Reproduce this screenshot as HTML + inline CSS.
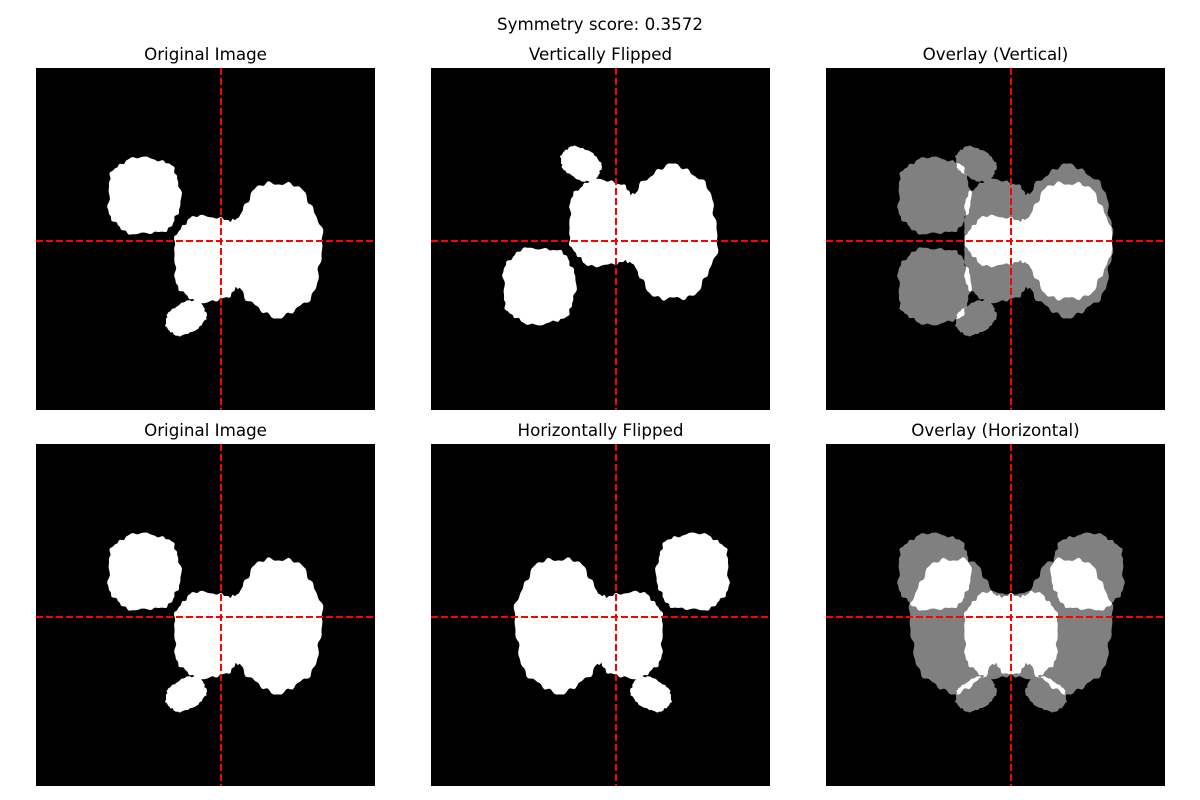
<!DOCTYPE html>
<html><head><meta charset="utf-8">
<style>
body{margin:0;background:#fff;}
svg{display:block;font-family:"DejaVu Sans","Liberation Sans",sans-serif;}
</style></head>
<body>
<svg id="fig" width="1200" height="800" viewBox="0 0 1200 800">
<text x="600" y="30" text-anchor="middle" font-size="16.7">Symmetry score: 0.3572</text>
</svg>
<script>
// Panel layout data
const panelTitles = ["Original Image","Vertically Flipped","Overlay (Vertical)","Original Image","Horizontally Flipped","Overlay (Horizontal)"];
const panelModes = ["orig","vflip","vover","orig","hflip","hover"];
const panelX = [36,431,826];
const panelY = [68,444];
const panelW = 339, panelH = 342;
// symmetry axis (centroid) in panel-local coords
const axisX = [185];
const axisY = [173];
// blob ellipses in panel-local coords: cx, cy, rx, ry, rotation, seed, power
const blobCx = [108,171,242,150,205];
const blobCy = [128,191,181,250,185];
const blobRx = [36,33,44,21,18];
const blobRy = [38,43,67,15,36];
const blobRot = [0,0,0,-30,0];
const blobSeed = [1,2,3,4,5];
const blobPow = [2.6,2.6,2.1,2.4,2.4];

const NS="http://www.w3.org/2000/svg";
const svg=document.getElementById('fig');
function el(tag,attrs,parent){const e=document.createElementNS(NS,tag);for(const k in attrs)e.setAttribute(k,attrs[k]);(parent||svg).appendChild(e);return e;}

function blobPath(i){
  const cx=blobCx[i],cy=blobCy[i],rx=blobRx[i],ry=blobRy[i],s=blobSeed[i];
  const a=blobRot[i]*Math.PI/180;
  const p=blobPow[i];
  let d="";
  const n=140;
  for(let k=0;k<n;k++){
    const t=k/n*2*Math.PI;
    const c=Math.cos(t),sn=Math.sin(t);
    const ex=Math.sign(c)*Math.pow(Math.abs(c),2/p), ey=Math.sign(sn)*Math.pow(Math.abs(sn),2/p);
    const w=1+0.03*Math.sin(7*t+s)+0.02*Math.sin(17*t+2*s)+0.015*Math.sin(29*t+3*s);
    const x=ex*rx*w,y=ey*ry*w;
    const X=cx+x*Math.cos(a)-y*Math.sin(a),Y=cy+x*Math.sin(a)+y*Math.cos(a);
    d+=(k?"L":"M")+X.toFixed(1)+","+Y.toFixed(1);
  }
  return d+"Z";
}
const defs=el('defs',{});
const shapeD=blobCx.map((_,i)=>blobPath(i));
function shapeGroup(parent,fill,transform){
  const g=el('g',{transform:transform||""},parent);
  shapeD.forEach(d=>{
    const p=el('path',{d:d,fill:fill},g);
    
    
  });
  return g;
}
const vT=`translate(0,${2*axisY[0]}) scale(1,-1)`;
const hT=`translate(${2*axisX[0]},0) scale(-1,1)`;
["v","h"].forEach(m=>{
  const cp=el('clipPath',{id:'flip-'+m},defs);
  shapeD.forEach(d=>el('path',{d:d,transform:m==="v"?vT:hT},cp));
});
el('clipPath',{id:'panel-clip'},defs);
el('rect',{x:0,y:0,width:panelW,height:panelH},defs.lastChild);

panelModes.forEach((mode,idx)=>{
  const px=panelX[idx%3],py=panelY[Math.floor(idx/3)];
  const g=el('g',{transform:`translate(${px},${py})`});
  
  
  const t=el('text',{x:panelW/2,y:-8,'text-anchor':'middle','font-size':16.7},g);
  t.textContent=panelTitles[idx];
  
  
  el('rect',{x:0,y:0,width:panelW,height:panelH,fill:'#000'},g);
  const inner=el('g',{'clip-path':'url(#panel-clip)'},g);
  if(mode==="orig") shapeGroup(inner,'#fff');
  else if(mode==="vflip") shapeGroup(inner,'#fff',vT);
  else if(mode==="hflip") shapeGroup(inner,'#fff',hT);
  else{
    const T=mode==="vover"?vT:hT, cid=mode==="vover"?"flip-v":"flip-h";
    shapeGroup(inner,'#808080');
    shapeGroup(inner,'#808080',T);
    const ig=el('g',{'clip-path':`url(#${cid})`},inner);
    shapeGroup(ig,'#fff');
  }
  const vl=el('line',{x1:axisX[0],x2:axisX[0],y1:0,y2:panelH,stroke:'#ff0000','stroke-width':2,'stroke-dasharray':'7,3'},g);
  
  
  const hl=el('line',{x1:0,x2:panelW,y1:axisY[0],y2:axisY[0],stroke:'#ff0000','stroke-width':2,'stroke-dasharray':'7,3'},g);
  
  
});
</script>
</body></html>
